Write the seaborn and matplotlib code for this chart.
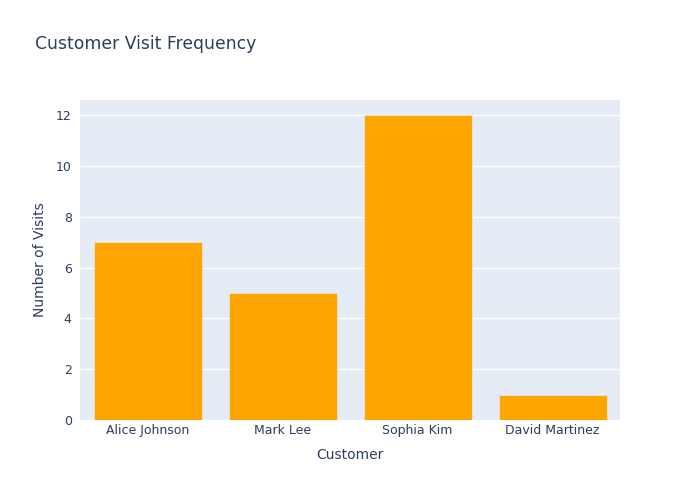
import matplotlib
matplotlib.use("Agg")
import matplotlib.pyplot as plt
import seaborn as sns
import pandas as pd

# data
customers = ["Alice Johnson", "Mark Lee", "Sophia Kim", "David Martinez"]
visits = [7, 5, 12, 1]
y_ticks = [0, 2, 4, 6, 8, 10, 12]

df = pd.DataFrame({"Customer": customers, "Number of Visits": visits})

sns.set_theme(style="white")
plt.rcParams["font.family"] = ["DejaVu Sans"]
text_color = "#2a3f5f"

fig = plt.figure(figsize=(7, 5), dpi=100)
ax = fig.add_axes([80 / 700, 80 / 500, 540 / 700, 320 / 500])
ax.set_facecolor("#E5ECF6")

sns.barplot(data=df, x="Customer", y="Number of Visits", color="#FFA500",
            saturation=1, width=0.8, ax=ax, zorder=3,
            edgecolor="#E5ECF6", linewidth=0.5)

ax.set_xlim(-0.5, len(customers) - 0.5)
ax.set_ylim(0, 12.6)
ax.set_yticks(y_ticks)
ax.grid(axis="y", color="white", linewidth=1, zorder=0)
ax.set_axisbelow(True)
for s in ax.spines.values():
    s.set_visible(False)

ax.tick_params(axis="both", length=0, labelsize=9, colors=text_color)
ax.tick_params(axis="x", pad=3)
ax.tick_params(axis="y", pad=6)
ax.set_xlabel("Customer", fontsize=10, color=text_color, labelpad=8)
ax.set_ylabel("Number of Visits", fontsize=10, color=text_color, labelpad=6)

fig.text(35 / 700, 1 - 44 / 500, "Customer Visit Frequency", fontsize=12.4,
         color=text_color, va="center", ha="left")

fig.savefig("out.png", dpi=100)
